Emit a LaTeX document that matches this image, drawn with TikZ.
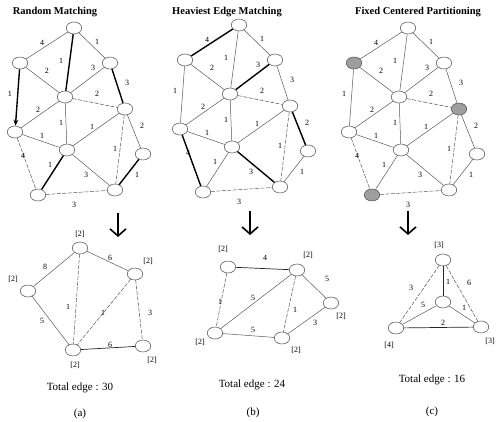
\documentclass[tikz,border=0pt]{standalone}
\usepackage{fontspec}
\setmainfont{Liberation Serif}
\usetikzlibrary{arrows.meta,shapes.geometric}
\tikzset{
  vtx/.style={draw=black!70, line width=0.5pt, ellipse, minimum width=15.5pt, minimum height=12pt, inner sep=0pt, fill=white},
  shaded/.style={fill=black!38},
  plain/.style={draw=black!65, line width=0.5pt},
  dsh/.style={plain, dash pattern=on 4pt off 1.5pt},
  heavy/.style={draw=black, line width=1.4pt},
  wl/.style={font=\fontsize{8}{9}\selectfont, inner sep=0pt},
  bl/.style={font=\fontsize{8}{9}\selectfont, inner sep=0pt},
  ttl/.style={font=\bfseries\fontsize{10.5}{12}\selectfont, inner sep=0pt},
  tot/.style={font=\fontsize{11}{12}\selectfont, inner sep=0pt},
  down/.style={draw=black, line width=1.6pt, -{Straight Barb[length=7pt,width=16pt]}},
  vA/.style={}, vB/.style={}, vC/.style={}, vD/.style={}, vE/.style={},
  vF/.style={}, vG/.style={}, vH/.style={}, vI/.style={}, vJ/.style={},
  eAB/.style={plain}, eAC/.style={plain}, eAD/.style={plain}, eBD/.style={plain},
  eBF/.style={plain}, eCD/.style={plain}, eCE/.style={plain}, eDE/.style={dsh},
  eDF/.style={plain}, eDG/.style={plain}, eFG/.style={plain}, eEG/.style={plain},
  eEH/.style={plain}, eEJ/.style={dsh}, eFI/.style={dsh}, eGI/.style={plain},
  eGJ/.style={plain}, eHJ/.style={plain}, eIJ/.style={dsh}
}
\newcommand\biggraph[1]{%
  \node[vtx,vA] (#1A) at (74,28) {};
  \node[vtx,vB] (#1B) at (20,63) {};
  \node[vtx,vC] (#1C) at (110,63) {};
  \node[vtx,vD] (#1D) at (65,97) {};
  \node[vtx,vE] (#1E) at (125,109) {};
  \node[vtx,vF] (#1F) at (15,132) {};
  \node[vtx,vG] (#1G) at (67,150) {};
  \node[vtx,vH] (#1H) at (143,154) {};
  \node[vtx,vI] (#1I) at (38,195) {};
  \node[vtx,vJ] (#1J) at (115,190) {};
  \draw[eAB] (#1A) -- (#1B);
  \draw[eAC] (#1A) -- (#1C);
  \draw[eAD] (#1A) -- (#1D);
  \draw[eBD] (#1B) -- (#1D);
  \draw[eBF] (#1B) -- (#1F);
  \draw[eCD] (#1C) -- (#1D);
  \draw[eCE] (#1C) -- (#1E);
  \draw[eDE] (#1D) -- (#1E);
  \draw[eDF] (#1D) -- (#1F);
  \draw[eDG] (#1D) -- (#1G);
  \draw[eFG] (#1F) -- (#1G);
  \draw[eEG] (#1E) -- (#1G);
  \draw[eEH] (#1E) -- (#1H);
  \draw[eEJ] (#1E) -- (#1J);
  \draw[eFI] (#1F) -- (#1I);
  \draw[eGI] (#1G) -- (#1I);
  \draw[eGJ] (#1G) -- (#1J);
  \draw[eHJ] (#1H) -- (#1J);
  \draw[eIJ] (#1I) -- (#1J);
  \node[wl] (#1wAB) at (42,43) {4};
  \node[wl] (#1wAC) at (97,42) {1};
  \node[wl] (#1wAD) at (61,61) {1};
  \node[wl] (#1wBD) at (47,71) {2};
  \node[wl] (#1wCD) at (93,68) {3};
  \node[wl] (#1wCE) at (127,83) {3};
  \node[wl] (#1wDE) at (97,94) {2};
  \node[wl] (#1wBF) at (10,94) {1};
  \node[wl] (#1wDF) at (38,110) {2};
  \node[wl] (#1wDG) at (61,123) {1};
  \node[wl] (#1wEG) at (92,127) {1};
  \node[wl] (#1wEH) at (142,126) {2};
  \node[wl] (#1wFG) at (42,136) {1};
  \node[wl] (#1wEJ) at (115,149) {1};
  \node[wl] (#1wFI) at (23,156) {4};
  \node[wl] (#1wGI) at (50,165) {1};
  \node[wl] (#1wGJ) at (86,175) {3};
  \node[wl] (#1wHJ) at (137,175) {1};
  \node[wl] (#1wIJ) at (74,205) {3};
}
\begin{document}
\begin{tikzpicture}[x=1pt,y=-1pt]
\useasboundingbox (0,0) rectangle (496,422);
\fill[white] (0,0) rectangle (496,422);
% titles
\node[ttl] (t1) at (55,12) {Random Matching};
\node[ttl] (t2) at (227,12) {Heaviest Edge Matching};
\node[ttl] (t3) at (418,12) {Fixed Centered Partitioning};
% graph 1
\begin{scope}[eAD/.style={heavy}, eBF/.style={heavy,-{Stealth[length=6pt,width=5pt]}},
  eCE/.style={heavy}, eGI/.style={heavy}, eHJ/.style={heavy}]
\biggraph{p}
\end{scope}
% graph 2
\begin{scope}[shift={(165,-3)}, eAB/.style={heavy}, eCD/.style={heavy}, eFI/.style={heavy},
  eEH/.style={heavy}, eGJ/.style={heavy}]
\biggraph{q}
\end{scope}
% graph 3
\begin{scope}[shift={(334,0)}, vB/.style={shaded}, vE/.style={shaded}, vI/.style={shaded}]
\biggraph{r}
\end{scope}
% down arrows
\coordinate (d1a) at (118,213); \coordinate (d1b) at (118,237);
\coordinate (d2a) at (250,211); \coordinate (d2b) at (250,235);
\coordinate (d3a) at (408,211); \coordinate (d3b) at (408,235);
\draw[down] (d1a) -- (d1b);
\draw[down] (d2a) -- (d2b);
\draw[down] (d3a) -- (d3b);
% (a)
\node[vtx] (aT) at (80,248) {};
\node[vtx] (aR) at (135,274) {};
\node[vtx] (aL) at (28,291) {};
\node[vtx] (aB) at (73,350) {};
\node[vtx] (aBR) at (143,346) {};
\draw[plain] (aT) -- (aL);
\draw[plain] (aT) -- (aR);
\draw[dsh] (aT) -- (aB);
\draw[dsh] (aR) -- (aB);
\draw[dsh] (aR) -- (aBR);
\draw[plain] (aL) -- (aB);
\draw[plain,draw=black!85,line width=0.7pt] (aB) -- (aBR);
\node[bl] (aTl) at (80,234) {[2]};
\node[bl] (aRl) at (148,261) {[2]};
\node[bl] (aLl) at (13,279) {[2]};
\node[bl] (aBl) at (75,365) {[2]};
\node[bl] (aBRl) at (152,360) {[2]};
\node[wl] (aw1) at (45,267) {8};
\node[wl] (aw2) at (110,258) {6};
\node[wl] (aw3) at (68,307) {1};
\node[wl] (aw4) at (103,313) {1};
\node[wl] (aw5) at (150,313) {3};
\node[wl] (aw6) at (42,321) {5};
\node[wl] (aw7) at (110,345) {6};
\node[tot] (atot) at (80,388) {Total edge : 30};
\node[tot] (acap) at (80,414) {(a)};
% (b)
\node[vtx] (bTL) at (228,267) {};
\node[vtx] (bTR) at (297,270) {};
\node[vtx] (bR) at (331,303) {};
\node[vtx] (bBL) at (215,333) {};
\node[vtx] (bBR) at (282,338) {};
\draw[plain,draw=black!85,line width=0.7pt] (bTL) -- (bTR);
\draw[dsh] (bTL) -- (bBL);
\draw[plain] (bTR) -- (bBL);
\draw[dsh] (bTR) -- (bBR);
\draw[plain] (bTR) -- (bR);
\draw[plain] (bR) -- (bBR);
\draw[plain] (bBL) -- (bBR);
\node[bl] (bTLl) at (223,249) {[2]};
\node[bl] (bTRl) at (308,255) {[2]};
\node[bl] (bRl) at (341,316) {[2]};
\node[bl] (bBLl) at (200,342) {[2]};
\node[bl] (bBRl) at (296,350) {[2]};
\node[wl] (bw1) at (265,258) {4};
\node[wl] (bw2) at (220,302) {1};
\node[wl] (bw3) at (253,298) {5};
\node[wl] (bw4) at (295,310) {1};
\node[wl] (bw5) at (327,279) {5};
\node[wl] (bw6) at (315,323) {3};
\node[wl] (bw7) at (253,330) {5};
\node[tot] (btot) at (252,385) {Total edge : 24};
\node[tot] (bcap) at (253,413) {(b)};
% (c)
\node[vtx] (cT) at (443,260) {};
\node[vtx] (cC) at (443,302) {};
\node[vtx] (cBL) at (396,328) {};
\node[vtx] (cBR) at (481,327) {};
\draw[plain,draw=black!85] (cT) -- (cC);
\draw[dsh] (cT) -- (cBL);
\draw[dsh] (cT) -- (cBR);
\draw[plain] (cC) -- (cBL);
\draw[plain] (cC) -- (cBR);
\draw[plain,draw=black!85,line width=0.7pt] (cBL) -- (cBR);
\node[bl] (cTl) at (439,245) {[3]};
\node[bl] (cBLl) at (389,345) {[4]};
\node[bl] (cBRl) at (490,341) {[3]};
\node[wl] (cw1) at (448,282) {1};
\node[wl] (cw2) at (411,288) {3};
\node[wl] (cw3) at (469,283) {6};
\node[wl] (cw4) at (423,305) {5};
\node[wl] (cw5) at (464,308) {1};
\node[wl] (cw6) at (443,323) {2};
\node[tot] (ctot) at (432,380) {Total edge : 16};
\node[tot] (ccap) at (432,412) {(c)};
\end{tikzpicture}
\end{document}
